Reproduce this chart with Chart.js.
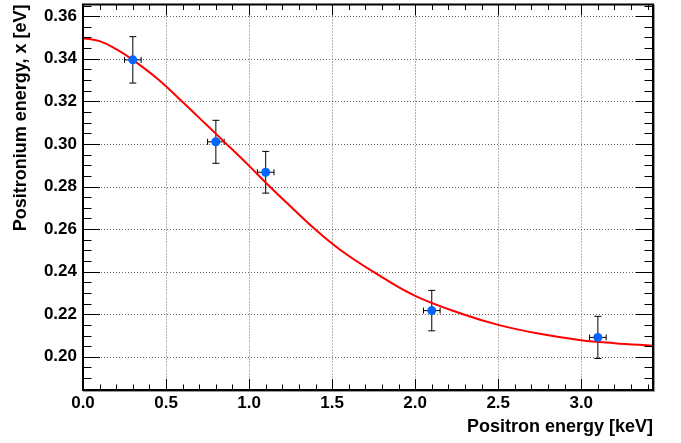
<!DOCTYPE html>
<html>
<head>
<meta charset="utf-8">
<script src="https://cdn.jsdelivr.net/npm/chart.js@4.4.1/dist/chart.umd.min.js"></script>
<style>
    body { margin: 0; background: #fff; }
    #wrap { width: 681px; height: 443px; }
</style>
</head>
<body>
<div id="wrap"><canvas id="plot" width="681" height="443"></canvas></div>
<script>
// measured points
const pointX = [0.3, 0.8, 1.1, 2.1, 3.1];
const pointY = [0.3395, 0.3010, 0.2867, 0.2217, 0.2091];
const errX = [0.05, 0.05, 0.05, 0.05, 0.05];
const errY = [0.0109, 0.0101, 0.0098, 0.0095, 0.0099];

// fit curve
const fitX = [0, 0.1, 0.2, 0.3, 0.45, 0.6, 0.75, 0.864, 1.0, 1.124, 1.25, 1.396, 1.55, 1.747, 2.0, 2.289, 2.5, 2.75, 3.0, 3.2, 3.43];
const fitY = [0.3497, 0.3483, 0.3445, 0.3395, 0.3305, 0.3197, 0.3085, 0.3000, 0.2897, 0.2800, 0.2706, 0.2600, 0.2502, 0.2400, 0.2286, 0.2200, 0.2150, 0.2108, 0.2078, 0.2064, 0.2052];

// axes
const xTicks = [0.0, 0.5, 1.0, 1.5, 2.0, 2.5, 3.0];
const yTicks = [0.20, 0.22, 0.24, 0.26, 0.28, 0.30, 0.32, 0.34, 0.36];
const xRange = [0, 3.432];
const yRange = [0.1844, 0.3655];

const font = "'Liberation Sans', Arial, sans-serif";

function tickLine(ctx, x1, y1, x2, y2) {
    ctx.beginPath();
    ctx.moveTo(x1, y1);
    ctx.lineTo(x2, y2);
    ctx.stroke();
}

const rootFrame = {
    id: 'rootFrame',
    beforeDatasetsDraw(chart) {
        const { ctx, chartArea: a, scales: { x, y } } = chart;
        ctx.save();
        // dotted grid
        ctx.strokeStyle = '#666';
        ctx.lineWidth = 1;
        ctx.setLineDash([1, 2]);
        xTicks.forEach(v => {
            const px = Math.round(x.getPixelForValue(v)) + 0.5;
            if (px > a.left + 2) tickLine(ctx, px, a.top, px, a.bottom);
        });
        yTicks.forEach(v => {
            const py = Math.round(y.getPixelForValue(v)) + 0.5;
            tickLine(ctx, a.left, py, a.right, py);
        });
        ctx.setLineDash([]);

        // error bars
        ctx.strokeStyle = '#000';
        pointX.forEach((vx, i) => {
            const cx = x.getPixelForValue(vx);
            const cy = y.getPixelForValue(pointY[i]);
            const x1 = x.getPixelForValue(vx - errX[i]);
            const x2 = x.getPixelForValue(vx + errX[i]);
            const y1 = y.getPixelForValue(pointY[i] + errY[i]);
            const y2 = y.getPixelForValue(pointY[i] - errY[i]);
            tickLine(ctx, cx, y1, cx, y2);
            tickLine(ctx, x1, cy, x2, cy);
            tickLine(ctx, cx - 3.5, y1, cx + 3.5, y1);
            tickLine(ctx, cx - 3.5, y2, cx + 3.5, y2);
            tickLine(ctx, x1, cy - 3, x1, cy + 3);
            tickLine(ctx, x2, cy - 3, x2, cy + 3);
        });
        ctx.restore();
    },
    afterDatasetsDraw(chart) {
        const { ctx, chartArea: a, scales: { x, y } } = chart;
        ctx.save();
        ctx.strokeStyle = '#000';
        ctx.lineWidth = 1;
        // x ticks, bottom and top
        for (let k = 0; k <= 34; k++) {
            const v = k / 10;
            const px = Math.round(x.getPixelForValue(v)) + 0.5;
            const len = k % 5 === 0 ? 11 : 5.5;
            tickLine(ctx, px, a.bottom, px, a.bottom - len);
            tickLine(ctx, px, a.top, px, a.top + len);
        }
        // y ticks, left and right
        for (let k = 37; k <= 73; k++) {
            const v = k * 0.005;
            const py = Math.round(y.getPixelForValue(v)) + 0.5;
            const len = k % 4 === 0 ? 17 : 8.5;
            tickLine(ctx, a.left, py, a.left + len, py);
            tickLine(ctx, a.right, py, a.right - len, py);
        }
        // frame
        ctx.lineWidth = 2;
        ctx.strokeRect(a.left, a.top, a.right - a.left, a.bottom - a.top);
        ctx.strokeStyle = '#999';
        ctx.lineWidth = 1;
        tickLine(ctx, a.right + 1.5, a.top, a.right + 1.5, a.bottom + 2);
        tickLine(ctx, a.left, a.bottom + 1.5, a.right + 2, a.bottom + 1.5);
        ctx.restore();
    }
};

function fixBox(scale) {
    scale.paddingLeft = 0;
    scale.paddingRight = 0;
    scale.paddingTop = 0;
    scale.paddingBottom = 0;
}

new Chart(document.getElementById('plot'), {
    type: 'scatter',
    data: {
        datasets: [{
            label: 'fit',
            type: 'line',
            data: fitX.map((v, i) => ({ x: v, y: fitY[i] })),
            borderColor: '#ff0000',
            borderWidth: 2,
            pointRadius: 0,
            tension: 0.4,
            fill: false,
            order: 2
        }, {
            label: 'data',
            data: pointX.map((v, i) => ({ x: v, y: pointY[i] })),
            backgroundColor: '#0066ff',
            borderColor: '#0066ff',
            pointRadius: 4.5,
            borderWidth: 0,
            order: 1
        }]
    },
    options: {
        responsive: false,
        animation: false,
        devicePixelRatio: 1,
        layout: { padding: { top: 4, right: 28, left: 0, bottom: 0 } },
        plugins: {
            legend: { display: false },
            tooltip: { enabled: false }
        },
        scales: {
            x: {
                type: 'linear',
                min: xRange[0],
                max: xRange[1],
                afterBuildTicks: s => { s.ticks = xTicks.map(v => ({ value: v })); },
                afterFit: s => { s.height = 53; fixBox(s); },
                grid: { display: false, drawTicks: false },
                border: { display: false },
                ticks: {
                    padding: 3,
                    color: '#000',
                    font: { family: font, size: 17, weight: 'bold' },
                    callback: v => v.toFixed(1)
                },
                title: {
                    display: true,
                    text: 'Positron energy [keV]',
                    align: 'end',
                    color: '#000',
                    padding: { top: 0, bottom: 5 },
                    font: { family: font, size: 18, weight: 'bold' }
                }
            },
            y: {
                type: 'linear',
                min: yRange[0],
                max: yRange[1],
                afterBuildTicks: s => { s.ticks = yTicks.map(v => ({ value: v })); },
                afterFit: s => { s.width = 83; fixBox(s); },
                grid: { display: false, drawTicks: false },
                border: { display: false },
                ticks: {
                    padding: 6,
                    color: '#000',
                    font: { family: font, size: 17, weight: 'bold' },
                    callback: v => v.toFixed(2)
                },
                title: {
                    display: true,
                    text: 'Positronium energy, x [eV]',
                    align: 'end',
                    color: '#000',
                    padding: { top: 10, bottom: 0 },
                    font: { family: font, size: 18, weight: 'bold' }
                }
            }
        }
    },
    plugins: [rootFrame]
});
</script>
</body>
</html>
